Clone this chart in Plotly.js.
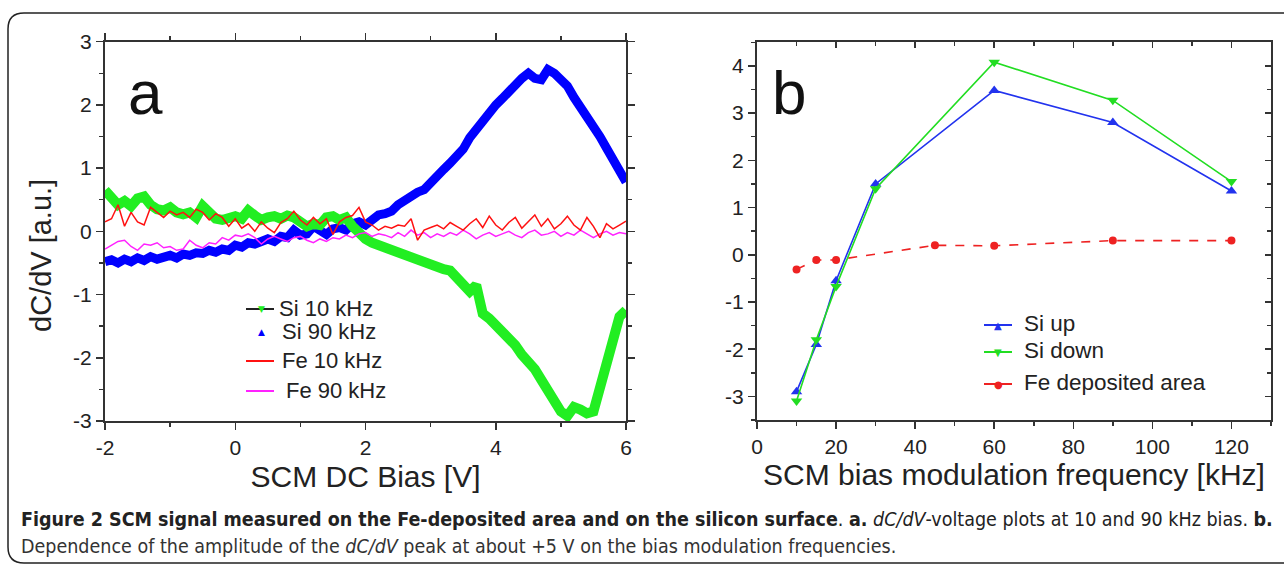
<!DOCTYPE html>
<html>
<head>
<meta charset="utf-8">
<script src="https://cdn.plot.ly/plotly-3.0.1.min.js"></script>
<style>
html,body{margin:0;padding:0;background:#fff;}
#chart{width:1284px;height:567px;}
</style>
</head>
<body>
<div id="chart"></div>
<script>
// ---------- Panel a: dC/dV vs DC bias ----------
const biasV = [-2.0,-1.9,-1.8,-1.7,-1.6,-1.5,-1.4,-1.3,-1.2,-1.1,-1.0,-0.9,-0.8,-0.7,-0.6,-0.5,-0.4,-0.3,-0.2,-0.1,
  0.0,0.1,0.2,0.3,0.4,0.5,0.6,0.7,0.8,0.9,1.0,1.1,1.2,1.3,1.4,1.5,1.6,1.7,1.8,1.9,
  2.0,2.1,2.2,2.3,2.4,2.5,2.6,2.7,2.8,2.9,3.0,3.1,3.2,3.3,3.4,3.5,3.6,3.7,3.8,3.9,
  4.0,4.1,4.2,4.3,4.4,4.5,4.6,4.7,4.8,4.9,5.0,5.1,5.2,5.3,5.4,5.5,5.6,5.7,5.8,5.9,6.0];

const si10 = [0.65,0.55,0.42,0.48,0.40,0.52,0.55,0.42,0.35,0.33,0.38,0.30,0.27,0.30,0.22,0.40,0.32,0.20,0.18,0.22,
  0.24,0.20,0.33,0.25,0.18,0.22,0.24,0.20,0.25,0.22,0.15,0.08,0.12,0.10,0.22,0.24,0.18,0.22,0.08,-0.05,
  -0.12,-0.18,-0.22,-0.25,-0.32,-0.36,-0.40,-0.42,-0.45,-0.48,-0.55,-0.58,-0.60,-0.62,-0.72,-0.85,-0.95,-0.85,-1.30,-1.38,
  -1.48,-1.58,-1.65,-1.80,-1.95,-2.05,-2.18,-2.35,-2.52,-2.68,-2.85,-2.92,-2.78,-2.82,-2.88,-2.85,-2.45,-2.00,-1.60,-1.35,-1.25];

const si90 = [-0.48,-0.45,-0.50,-0.44,-0.48,-0.42,-0.46,-0.40,-0.44,-0.40,-0.38,-0.42,-0.36,-0.38,-0.34,-0.35,-0.30,-0.33,-0.28,-0.30,
  -0.22,-0.25,-0.18,-0.20,-0.14,-0.12,-0.16,-0.08,-0.10,0.02,-0.06,-0.04,0.08,0.02,-0.05,0.04,0.06,0.02,0.12,0.15,
  0.10,0.18,0.26,0.28,0.32,0.42,0.50,0.55,0.62,0.66,0.78,0.88,0.98,1.08,1.18,1.30,1.48,1.62,1.72,1.85,
  2.00,2.10,2.22,2.32,2.42,2.50,2.42,2.40,2.56,2.50,2.42,2.30,2.12,1.98,1.80,1.65,1.50,1.32,1.12,0.92,0.78];

const fe10 = [0.15,0.20,0.42,0.08,0.30,0.15,0.10,0.38,0.30,0.22,0.32,0.26,0.30,0.22,0.35,0.30,0.18,0.28,0.22,0.08,
  0.20,0.05,0.12,0.00,0.15,0.05,-0.02,0.14,0.20,0.32,0.18,0.10,0.22,0.12,0.20,-0.05,0.15,0.22,0.25,0.38,
  0.15,0.10,0.02,0.08,0.05,0.10,0.08,0.20,-0.14,0.02,0.06,0.10,0.04,0.14,0.08,0.02,0.12,0.20,0.06,0.24,
  0.10,0.02,0.14,0.22,0.05,0.16,0.26,0.08,0.20,0.04,0.12,0.24,0.10,0.02,0.22,0.08,-0.10,0.12,0.04,0.10,0.16];

const fe90 = [-0.28,-0.22,-0.16,-0.14,-0.24,-0.30,-0.20,-0.22,-0.18,-0.26,-0.24,-0.30,-0.28,-0.14,-0.22,-0.26,-0.18,-0.20,-0.10,-0.14,
  -0.06,-0.08,-0.04,-0.10,-0.20,-0.12,-0.08,-0.12,-0.16,-0.10,-0.08,-0.14,-0.18,-0.12,-0.16,-0.10,-0.12,-0.06,-0.10,-0.04,
  -0.02,-0.08,-0.04,-0.06,-0.10,-0.02,-0.08,0.02,-0.06,-0.02,-0.10,-0.04,-0.08,-0.02,-0.06,0.02,-0.04,-0.12,-0.06,-0.02,
  -0.08,-0.04,0.00,-0.06,-0.10,-0.02,0.02,-0.06,-0.04,0.00,-0.08,-0.02,-0.06,0.02,-0.04,-0.10,-0.04,0.00,-0.06,-0.02,-0.04];

const legendA = ["Si 10 kHz", "Si 90 kHz", "Fe 10 kHz", "Fe 90 kHz"];
const tickValsAx = [-2, 0, 2, 4, 6];
const tickTextAx = ["-2", "0", "2", "4", "6"];
const tickValsAy = [-3, -2, -1, 0, 1, 2, 3];
const tickTextAy = ["-3", "-2", "-1", "0", "1", "2", "3"];

// ---------- Panel b: peak amplitude vs modulation frequency ----------
const freqSi = [10, 15, 20, 30, 60, 90, 120];
const siUp   = [-2.9, -1.9, -0.55, 1.5, 3.48, 2.8, 1.35];
const siDown = [-3.1, -1.8, -0.67, 1.4, 4.08, 3.27, 1.55];
const freqFe = [10, 15, 20, 45, 60, 90, 120];
const feArea = [-0.31, -0.11, -0.11, 0.2, 0.19, 0.3, 0.3];
const legendB = ["Si up", "Si down", "Fe deposited area"];
const tickValsBx = [0, 20, 40, 60, 80, 100, 120];
const tickTextBx = ["0", "20", "40", "60", "80", "100", "120"];
const tickValsBy = [-3, -2, -1, 0, 1, 2, 3, 4];
const tickTextBy = ["-3", "-2", "-1", "0", "1", "2", "3", "4"];

const captionBold = "Figure 2 SCM signal measured on the Fe-deposited area and on the silicon surface";

// ---------- helpers (pixel -> paper) ----------
const W = 1284, H = 567;
const px = x => x / W;
const py = y => 1 - y / H;

const FONT = "Liberation Sans, Arial, Helvetica, sans-serif";
const NARROW = "DejaVu Sans Condensed, Liberation Sans Narrow, sans-serif";
const AX = '#333';

const traces = [
  {x: biasV, y: si90, xaxis: 'x', yaxis: 'y', mode: 'lines', name: legendA[1], showlegend: false,
   line: {color: '#0000ff', width: 9}},
  {x: biasV, y: si10, xaxis: 'x', yaxis: 'y', mode: 'lines', name: legendA[0], showlegend: false,
   line: {color: '#22ee22', width: 10}},
  {x: biasV, y: fe90, xaxis: 'x', yaxis: 'y', mode: 'lines', name: legendA[3], showlegend: false,
   line: {color: '#ff22ff', width: 1.5}},
  {x: biasV, y: fe10, xaxis: 'x', yaxis: 'y', mode: 'lines', name: legendA[2], showlegend: false,
   line: {color: '#ff1111', width: 1.5}},

  {x: freqFe, y: feArea, xaxis: 'x2', yaxis: 'y2', mode: 'lines+markers', name: legendB[2], showlegend: false,
   line: {color: '#ee2222', width: 1.6, dash: 'dash'}, marker: {symbol: 'circle', size: 8, color: '#ee2222'}},
  {x: freqSi, y: siUp, xaxis: 'x2', yaxis: 'y2', mode: 'lines+markers', name: legendB[0], showlegend: false,
   line: {color: '#2233ee', width: 1.6}, marker: {symbol: 'triangle-up', size: 10, color: '#2233ee'}},
  {x: freqSi, y: siDown, xaxis: 'x2', yaxis: 'y2', mode: 'lines+markers', name: legendB[1], showlegend: false,
   line: {color: '#22dd22', width: 1.6}, marker: {symbol: 'triangle-down', size: 10, color: '#22dd22'}},
  // empty trace so the inward top/right tick axes of panel b are drawn
  {x: [null], y: [null], xaxis: 'x3', yaxis: 'y3', mode: 'markers', showlegend: false, hoverinfo: 'skip'}
];

function axisBase(extra) {
  return Object.assign({
    showline: true, linecolor: AX, linewidth: 2,
    ticks: 'outside', ticklen: 7, tickwidth: 1.5, tickcolor: AX,
    showgrid: false, zeroline: false,
    tickfont: {family: FONT, size: 21, color: '#222'}
  }, extra);
}

const annotations = [
  {xref: 'paper', yref: 'paper', x: px(145), y: py(92), text: 'a', showarrow: false,
   xanchor: 'center', yanchor: 'middle', font: {family: FONT, size: 62, color: '#111'}},
  {xref: 'paper', yref: 'paper', x: px(789), y: py(93), text: 'b', showarrow: false,
   xanchor: 'center', yanchor: 'middle', font: {family: FONT, size: 62, color: '#111'}},
  // y-axis title of panel a (sits slightly below the axis centre in the original)
  {xref: 'paper', yref: 'paper', x: px(41), y: py(255), text: 'dC/dV [a.u.]', showarrow: false, textangle: -90,
   xanchor: 'center', yanchor: 'middle', font: {family: FONT, size: 29, color: '#222'}},
  // caption
  {xref: 'paper', yref: 'paper', x: px(19), y: py(519), xanchor: 'left', yanchor: 'middle', showarrow: false,
   align: 'left', font: {family: NARROW, size: 19.5, color: '#222'},
   text: '<b>' + captionBold + '</b>. <b>a.</b> <i>dC/dV</i>-voltage plots at 10 and 90 kHz bias. <b>b.</b>'},
  {xref: 'paper', yref: 'paper', x: px(19), y: py(546), xanchor: 'left', yanchor: 'middle', showarrow: false,
   align: 'left', font: {family: NARROW, size: 19.5, color: '#333'},
   text: 'Dependence of the amplitude of the <i>dC/dV</i> peak at about +5 V on the bias modulation frequencies.'}
];

const shapes = [
  // rounded frame
  {type: 'path', xref: 'paper', yref: 'paper', line: {color: '#222', width: 1.5},
   path: `M ${px(1300)},${py(13)} L ${px(24)},${py(13)} Q ${px(8)},${py(13)} ${px(8)},${py(29)} L ${px(8)},${py(547)} Q ${px(8)},${py(563)} ${px(24)},${py(563)} L ${px(1300)},${py(563)}`}
];

// Manual legend for panel a
const legA = [
  {y: 308, line: '#222', mk: '▼', mkc: '#22ee22', tx: 277},
  {y: 331, line: null, mk: '▲', mkc: '#0000ff', tx: 280},
  {y: 360, line: '#ff1111', mk: null, tx: 280},
  {y: 390, line: '#ff22ff', mk: null, tx: 284}
];
legA.forEach((e, i) => {
  if (e.line) shapes.push({type: 'line', xref: 'paper', yref: 'paper', x0: px(246), x1: px(274), y0: py(e.y + 1), y1: py(e.y + 1),
    line: {color: e.line, width: 2}});
  if (e.mk) annotations.push({xref: 'paper', yref: 'paper', x: px(261), y: py(e.y + 1), text: e.mk, showarrow: false,
    xanchor: 'center', yanchor: 'middle', font: {family: 'DejaVu Sans', size: 9, color: e.mkc}});
  annotations.push({xref: 'paper', yref: 'paper', x: px(e.tx), y: py(e.y), text: legendA[i], showarrow: false,
    xanchor: 'left', yanchor: 'middle', font: {family: FONT, size: 22, color: '#222'}});
});

// Manual legend for panel b
const legB = [
  {y: 323, c: '#2233ee', mk: '▲'},
  {y: 350, c: '#22dd22', mk: '▼'},
  {y: 382, c: '#ee2222', mk: '●'}
];
legB.forEach((e, i) => {
  shapes.push({type: 'line', xref: 'paper', yref: 'paper', x0: px(984), x1: px(1012), y0: py(e.y + 2), y1: py(e.y + 2),
    line: {color: e.c, width: 2}});
  annotations.push({xref: 'paper', yref: 'paper', x: px(998), y: py(e.y + 2), text: e.mk, showarrow: false,
    xanchor: 'center', yanchor: 'middle', font: {family: 'DejaVu Sans', size: 10, color: e.c}});
  annotations.push({xref: 'paper', yref: 'paper', x: px(1022), y: py(e.y), text: legendB[i], showarrow: false,
    xanchor: 'left', yanchor: 'middle', font: {family: FONT, size: 22.5, color: '#222'}});
});

const domAx = [px(105), px(626)], domAy = [py(421), py(41.7)];
const domBx = [px(757), px(1271)], domBy = [py(420), py(42.3)];

const layout = {
  width: W, height: H,
  margin: {l: 0, r: 0, t: 0, b: 0},
  paper_bgcolor: '#fff', plot_bgcolor: 'rgba(0,0,0,0)',
  showlegend: false,
  font: {family: FONT, color: '#222'},
  xaxis: axisBase({domain: domAx, range: [-2, 6], tickmode: 'array', tickvals: tickValsAx, ticktext: tickTextAx,
    anchor: 'y', mirror: 'ticks',
    minor: {dtick: 1, ticks: 'outside', ticklen: 4, tickcolor: AX},
    title: {text: 'SCM DC Bias [V]', font: {family: FONT, size: 30, color: '#222'}, standoff: 8}}),
  yaxis: axisBase({domain: domAy, range: [-3, 3], tickmode: 'array', tickvals: tickValsAy, ticktext: tickTextAy,
    anchor: 'x', mirror: 'ticks',
    minor: {dtick: 0.5, ticks: 'outside', ticklen: 4, tickcolor: AX}}),
  xaxis2: axisBase({domain: domBx, range: [0, 130], tickmode: 'array', tickvals: tickValsBx, ticktext: tickTextBx,
    anchor: 'y2',
    minor: {dtick: 10, ticks: 'outside', ticklen: 4, tickcolor: AX},
    title: {text: 'SCM bias modulation frequency [kHz]', font: {family: FONT, size: 30, color: '#222'}, standoff: 0}}),
  yaxis2: axisBase({domain: domBy, range: [-3.5, 4.5], tickmode: 'array', tickvals: tickValsBy, ticktext: tickTextBy,
    anchor: 'x2',
    minor: {dtick: 0.5, ticks: 'outside', ticklen: 4, tickcolor: AX}}),
  // inward ticks on top and right of panel b
  xaxis3: {domain: domBx, range: [0, 130], overlaying: 'x2', side: 'top', anchor: 'y3',
    showline: true, linecolor: AX, linewidth: 2, ticks: 'inside', ticklen: 6, tickwidth: 1.5, tickcolor: AX,
    tickmode: 'array', tickvals: tickValsBx, showticklabels: false, showgrid: false, zeroline: false,
    minor: {dtick: 10, ticks: 'inside', ticklen: 4, tickcolor: AX}},
  yaxis3: {domain: domBy, range: [-3.5, 4.5], overlaying: 'y2', side: 'right', anchor: 'x3',
    showline: true, linecolor: AX, linewidth: 2, ticks: 'inside', ticklen: 6, tickwidth: 1.5, tickcolor: AX,
    tickmode: 'array', tickvals: tickValsBy, showticklabels: false, showgrid: false, zeroline: false,
    minor: {dtick: 0.5, ticks: 'inside', ticklen: 4, tickcolor: AX}},
  annotations: annotations,
  shapes: shapes
};

Plotly.newPlot('chart', traces, layout, {staticPlot: true, displayModeBar: false});
</script>
</body>
</html>
